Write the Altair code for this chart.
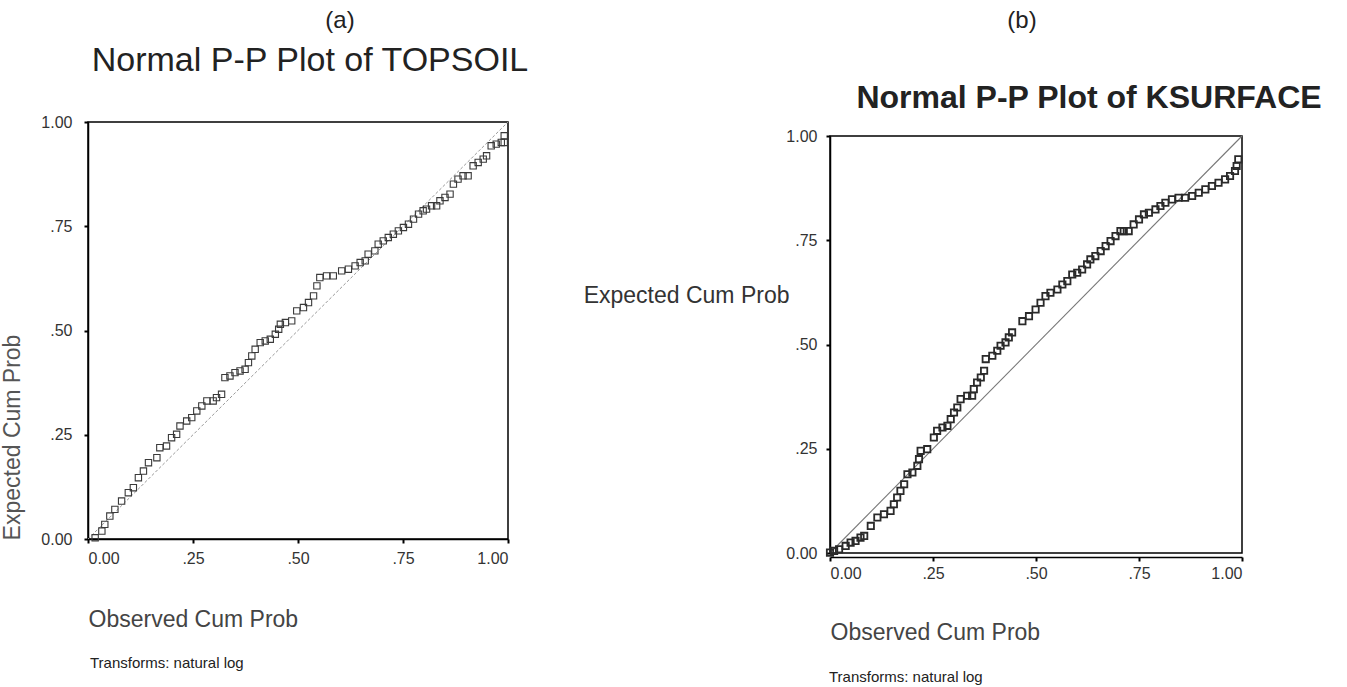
import altair as alt
import pandas as pd

# ---------------- data ----------------
a_obs = [0.017, 0.033, 0.040, 0.052, 0.064, 0.080, 0.096, 0.108, 0.120, 0.132,
         0.144, 0.164, 0.171, 0.187, 0.199, 0.211, 0.219, 0.235, 0.247, 0.259,
         0.271, 0.283, 0.298, 0.306, 0.318, 0.326, 0.338, 0.350, 0.362, 0.374,
         0.382, 0.390, 0.398, 0.410, 0.422, 0.434, 0.446, 0.454, 0.458, 0.470,
         0.485, 0.497, 0.513, 0.525, 0.537, 0.545, 0.552, 0.568, 0.584, 0.604,
         0.620, 0.636, 0.648, 0.660, 0.667, 0.683, 0.691, 0.703, 0.715, 0.727,
         0.739, 0.751, 0.763, 0.775, 0.787, 0.798, 0.806, 0.818, 0.830, 0.838,
         0.850, 0.862, 0.870, 0.881, 0.893, 0.905, 0.917, 0.929, 0.941, 0.949,
         0.960, 0.972, 0.984, 0.991, 0.991]
a_exp = [0.003, 0.019, 0.035, 0.055, 0.071, 0.091, 0.111, 0.123, 0.147, 0.163,
         0.183, 0.195, 0.219, 0.223, 0.243, 0.251, 0.271, 0.283, 0.291, 0.307,
         0.319, 0.331, 0.331, 0.339, 0.347, 0.387, 0.391, 0.399, 0.403, 0.407,
         0.423, 0.439, 0.455, 0.471, 0.475, 0.479, 0.491, 0.503, 0.515, 0.519,
         0.523, 0.547, 0.555, 0.567, 0.583, 0.607, 0.627, 0.631, 0.631, 0.643,
         0.647, 0.655, 0.663, 0.667, 0.683, 0.691, 0.707, 0.715, 0.723, 0.731,
         0.739, 0.747, 0.755, 0.767, 0.779, 0.787, 0.791, 0.799, 0.799, 0.811,
         0.819, 0.827, 0.851, 0.863, 0.871, 0.871, 0.895, 0.903, 0.911, 0.919,
         0.943, 0.947, 0.951, 0.967, 0.951]

b_obs = [0.000, 0.010, 0.022, 0.038, 0.050, 0.062, 0.074, 0.083, 0.099, 0.115,
         0.131, 0.147, 0.155, 0.163, 0.171, 0.180, 0.188, 0.200, 0.212, 0.216,
         0.220, 0.236, 0.252, 0.260, 0.273, 0.285, 0.293, 0.301, 0.309, 0.317,
         0.333, 0.345, 0.349, 0.357, 0.366, 0.374, 0.378, 0.394, 0.406, 0.414,
         0.426, 0.434, 0.442, 0.467, 0.483, 0.499, 0.511, 0.523, 0.535, 0.552,
         0.564, 0.576, 0.588, 0.600, 0.612, 0.624, 0.632, 0.644, 0.657, 0.669,
         0.681, 0.693, 0.705, 0.713, 0.725, 0.737, 0.750, 0.762, 0.774, 0.790,
         0.802, 0.814, 0.830, 0.846, 0.862, 0.879, 0.895, 0.911, 0.927, 0.943,
         0.959, 0.971, 0.983, 0.987, 0.991]
b_exp = [0.001, 0.005, 0.009, 0.017, 0.025, 0.029, 0.037, 0.041, 0.065, 0.085,
         0.093, 0.101, 0.117, 0.133, 0.149, 0.165, 0.189, 0.193, 0.209, 0.225,
         0.245, 0.249, 0.277, 0.293, 0.301, 0.305, 0.321, 0.337, 0.349, 0.369,
         0.377, 0.377, 0.393, 0.409, 0.421, 0.437, 0.465, 0.473, 0.485, 0.497,
         0.505, 0.517, 0.529, 0.556, 0.568, 0.584, 0.600, 0.616, 0.624, 0.632,
         0.644, 0.652, 0.668, 0.672, 0.680, 0.692, 0.704, 0.712, 0.724, 0.736,
         0.748, 0.760, 0.772, 0.772, 0.772, 0.788, 0.800, 0.812, 0.816, 0.824,
         0.832, 0.840, 0.848, 0.852, 0.852, 0.856, 0.864, 0.872, 0.880, 0.888,
         0.896, 0.904, 0.916, 0.928, 0.944]

diag = [0.0, 1.0]
frame = {"x": [0.0], "x2": [1.0], "y": [0.0], "y2": [1.0]}
tick_values = [0.0, 0.25, 0.5, 0.75, 1.0]

tag_a = ["(a)"]
tag_b = ["(b)"]
title_a = ["Normal P-P Plot of TOPSOIL"]
title_b = ["Normal P-P Plot of KSURFACE"]
note = ["Transforms: natural log"]
x_title = "Observed Cum Prob"
y_title = "Expected Cum Prob"

FONT = "Liberation Sans"
LABEL_EXPR = ("datum.value == 0 ? '0.00' : datum.value == 1 ? '1.00' : "
              "'.' + format(datum.value * 100, '02d')")


def text_layer(values, xpos, ypos, size, bold=False, align="center", color="#222"):
    return alt.Chart(pd.DataFrame({"t": values})).mark_text(
        font=FONT, fontSize=size, fontWeight="bold" if bold else "normal",
        align=align, baseline="middle", color=color,
    ).encode(text="t:N", x=alt.value(xpos), y=alt.value(ypos))


# ---------------- panel (a) ----------------
W_A, H_A = 420, 417
xa_axis = alt.Axis(values=tick_values, labelExpr=LABEL_EXPR, title=x_title,
                   titleAnchor="start", titleAlign="left", titleX=0, titleY=87,
                   titleBaseline="alphabetic", titleFontSize=23,
                   titleFontWeight="normal", titleColor="#444", labelPadding=7)
ya_axis = alt.Axis(values=tick_values, labelExpr=LABEL_EXPR, title=y_title,
                   titleAngle=270, titleX=-64, titleY=315, titleAlign="center",
                   titleBaseline="bottom", titleFontSize=23,
                   titleFontWeight="normal", titleColor="#555", labelPadding=12)
sa = alt.Scale(domain=[0, 1], nice=False, zero=False)
xa = alt.X("x:Q", scale=sa, axis=xa_axis)
ya = alt.Y("y:Q", scale=sa, axis=ya_axis)

frame_a = alt.Chart(pd.DataFrame(frame)).mark_rect(
    filled=False, stroke="black", strokeWidth=1.5).encode(
    x=xa, x2="x2:Q", y=ya, y2="y2:Q")
diag_a = alt.Chart(pd.DataFrame({"x": diag, "y": diag})).mark_line(
    color="#9a9a9a", strokeWidth=1, strokeDash=[3, 2]).encode(x=xa, y=ya)
pts_a = alt.Chart(pd.DataFrame({"x": a_obs, "y": a_exp})).mark_point(
    shape="square", filled=False, size=40, color="#3a3a3a", strokeWidth=1.1,
    opacity=1).encode(x=xa, y=ya)

panel_a = alt.layer(
    frame_a, diag_a, pts_a,
    text_layer(tag_a, 252, -101, 24),
    text_layer(title_a, 222, -61, 34),
    text_layer(note, 2, 541, 15, align="left"),
).properties(width=W_A, height=H_A)

# ---------------- panel (b) ----------------
# plot area is 412 x 417 but sits 14 px lower than panel (a)
W_B, H_B, DROP_B = 412, 417, 14
xb_axis = alt.Axis(values=tick_values, labelExpr=LABEL_EXPR, title=x_title,
                   titleAnchor="start", titleAlign="left", titleX=0, titleY=82,
                   titleBaseline="alphabetic", titleFontSize=23,
                   titleFontWeight="normal", titleColor="#444", labelPadding=4,
                   offset=4)
yb_axis = alt.Axis(values=tick_values, labelExpr=LABEL_EXPR, title=y_title,
                   titleAngle=0, titleX=-41, titleY=173, titleAlign="right",
                   titleBaseline="middle", titleFontSize=23,
                   titleFontWeight="normal", titleColor="#333", labelPadding=9)
xb = alt.X("x:Q", scale=alt.Scale(domain=[0, 1], nice=False, zero=False), axis=xb_axis)
yb = alt.Y("y:Q", scale=alt.Scale(domain=[0, 1], nice=False, zero=False,
                                  range=[H_B + DROP_B, DROP_B]), axis=yb_axis)

frame_b = alt.Chart(pd.DataFrame(frame)).mark_rect(
    filled=False, stroke="black", strokeWidth=1.5).encode(
    x=xb, x2="x2:Q", y=yb, y2="y2:Q")
diag_b = alt.Chart(pd.DataFrame({"x": diag, "y": diag})).mark_line(
    color="#777777", strokeWidth=1.1).encode(x=xb, y=yb)
pts_b = alt.Chart(pd.DataFrame({"x": b_obs, "y": b_exp})).mark_point(
    shape="square", filled=False, size=40, color="#2a2a2a", strokeWidth=1.8,
    opacity=1).encode(x=xb, y=yb)

panel_b = alt.layer(
    frame_b, diag_b, pts_b,
    text_layer(tag_b, 192, -101, 24),
    text_layer(title_b, 259, -24, 32, bold=True),
    text_layer(note, -1, 555, 15, align="left"),
).properties(width=W_B, height=H_B + DROP_B)

chart = alt.hconcat(panel_a, panel_b, spacing=52).properties(
    padding={"left": 0, "top": 8, "right": 0, "bottom": 0},
    background="white",
).configure_view(
    stroke="transparent"
).configure_axis(
    grid=False, domainColor="black", domainWidth=1.5, tickColor="black",
    tickSize=4, tickWidth=2, labelFont=FONT, labelFontSize=16, labelColor="#333",
    titleFont=FONT
)

chart.save("out.html", embed_options={"renderer": "svg", "actions": False})
